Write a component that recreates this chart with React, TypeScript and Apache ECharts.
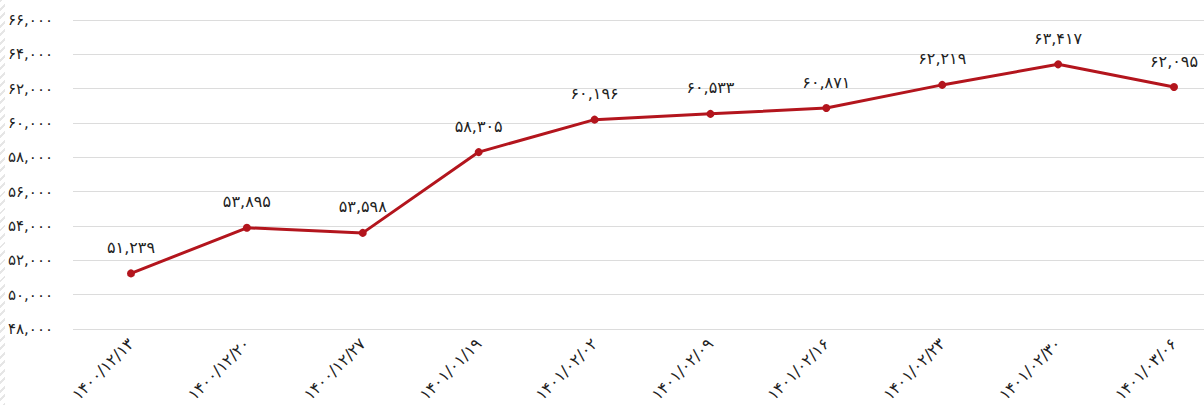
import React, { useEffect, useRef } from "react";
import * as echarts from "echarts";

const categories = [
  "۱۴۰۰/۱۲/۱۳",
  "۱۴۰۰/۱۲/۲۰",
  "۱۴۰۰/۱۲/۲۷",
  "۱۴۰۱/۰۱/۱۹",
  "۱۴۰۱/۰۲/۰۲",
  "۱۴۰۱/۰۲/۰۹",
  "۱۴۰۱/۰۲/۱۶",
  "۱۴۰۱/۰۲/۲۳",
  "۱۴۰۱/۰۲/۳۰",
  "۱۴۰۱/۰۳/۰۶",
];
const values = [51239, 53895, 53598, 58305, 60196, 60533, 60871, 62219, 63417, 62095];
const yMin = 48000;
const yMax = 66000;
const yStep = 2000;

const FA = "۰۱۲۳۴۵۶۷۸۹";
function toFa(n: number): string {
  const s = Math.round(n).toString().replace(/\B(?=(\d{3})+(?!\d))/g, ",");
  return s.replace(/\d/g, (d) => FA[+d]);
}

const FONT = "'DejaVu Sans', sans-serif";

export default function App() {
  const ref = useRef<HTMLDivElement>(null);
  useEffect(() => {
    if (!ref.current) return;
    const chart = echarts.init(ref.current, undefined, { renderer: "svg" });
    chart.setOption({
      animation: false,
      backgroundColor: "#ffffff",
      grid: [
        { left: 73, right: 0, top: 20, bottom: 76 },
        { left: 131, right: 30, top: 20, bottom: 76 },
      ],
      xAxis: [
        { type: "category", gridIndex: 0, data: categories, show: false },
        {
          type: "category",
          gridIndex: 1,
          data: categories,
          boundaryGap: false,
          axisLine: { show: false },
          axisTick: { show: false },
          splitLine: { show: false },
          axisLabel: {
            rotate: 45,
            margin: 12,
            fontSize: 16,
            color: "#222",
            fontFamily: FONT,
            interval: 0,
          },
        },
      ],
      yAxis: [
        {
          type: "value",
          gridIndex: 0,
          min: yMin,
          max: yMax,
          interval: yStep,
          axisLine: { show: false },
          axisTick: { show: false },
          splitLine: { lineStyle: { color: "#dcdcdc", width: 1 } },
          axisLabel: {
            margin: 20,
            fontSize: 15,
            color: "#222",
            fontFamily: FONT,
            formatter: (v: number) => toFa(v),
          },
        },
        {
          type: "value",
          gridIndex: 1,
          min: yMin,
          max: yMax,
          interval: yStep,
          show: false,
          splitLine: { show: false },
        },
      ],
      series: [
        {
          type: "line",
          xAxisIndex: 1,
          yAxisIndex: 1,
          data: values,
          symbol: "circle",
          symbolSize: 8,
          lineStyle: { color: "#b3151d", width: 3 },
          itemStyle: { color: "#b3151d" },
          label: {
            show: true,
            position: "top",
            distance: 14,
            fontSize: 16,
            color: "#222",
            fontFamily: FONT,
            formatter: (p: any) => toFa(p.value),
          },
        },
      ],
    });
    return () => chart.dispose();
  }, []);
  return (
    <div style={{ position: "absolute", left: 0, top: 0, width: 1204, height: 405 }}>
      <div ref={ref} style={{ position: "absolute", left: 0, top: 0, width: 1204, height: 405 }} />
      <div
        style={{
          position: "absolute",
          left: 0,
          top: 0,
          width: 5,
          height: 405,
          background:
            "repeating-linear-gradient(135deg, #e6e6e6 0px, #e6e6e6 2px, transparent 2px, transparent 6px)",
          pointerEvents: "none",
        }}
      />
    </div>
  );
}
